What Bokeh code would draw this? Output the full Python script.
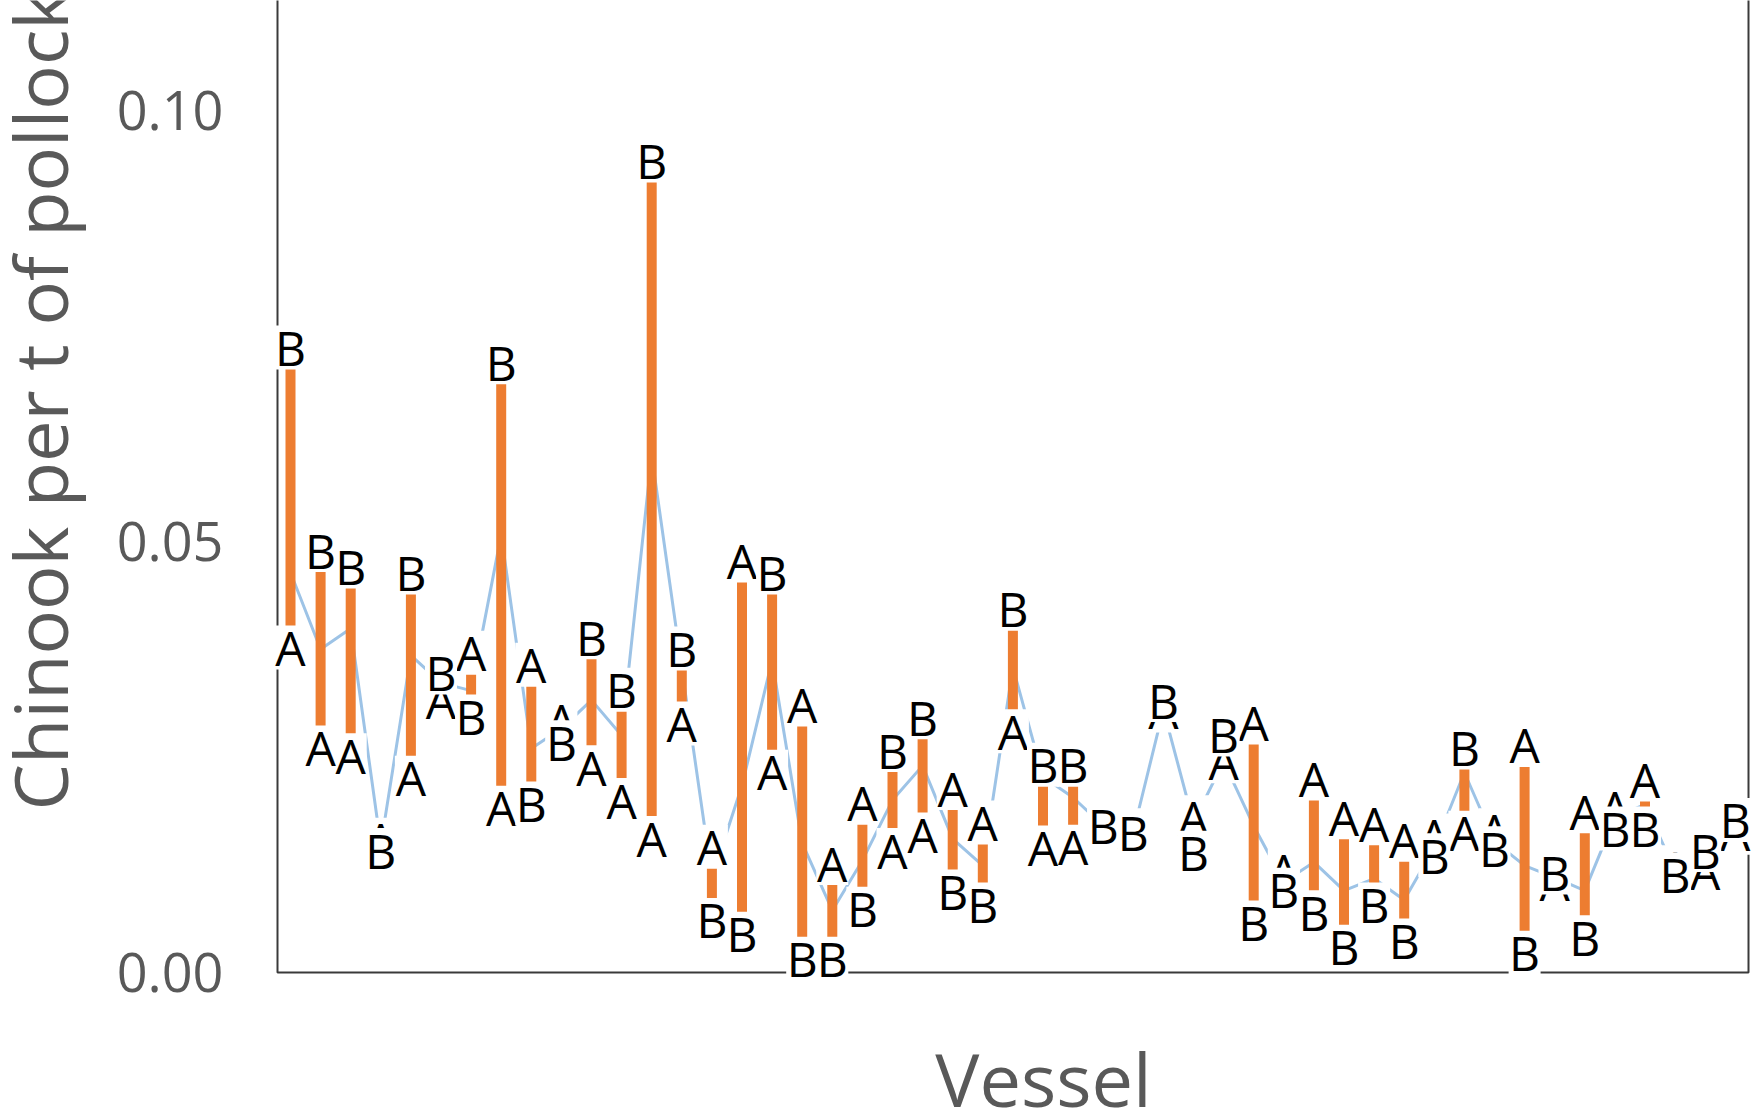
import math
from bokeh.plotting import figure
from bokeh.layouts import row
from bokeh.models import Range1d, FixedTicker, NumeralTickFormatter, Label, ColumnDataSource
from bokeh.embed import file_html
from bokeh.resources import INLINE
from bokeh.core.properties import value

# ---------------- data ----------------
season_a = [0.0377, 0.0261, 0.0252, 0.0154, 0.0226, 0.0316, 0.0371, 0.0191, 0.0357, 0.0292,
            0.0238, 0.0200, 0.0156, 0.0289, 0.0146, 0.0478, 0.0233, 0.0311, 0.0127, 0.0197,
            0.0142, 0.0160, 0.0214, 0.0174, 0.0280, 0.0145, 0.0146, 0.0168, 0.0165, 0.0304,
            0.0180, 0.0245, 0.0290, 0.0118, 0.0225, 0.0180, 0.0173, 0.0154, 0.0159, 0.0162,
            0.0165, 0.0264, 0.0104, 0.0187, 0.0191, 0.0224, 0.0122, 0.0117, 0.0162]
season_b = [0.0725, 0.0490, 0.0471, 0.0142, 0.0464, 0.0348, 0.0297, 0.0708, 0.0196, 0.0267,
            0.0389, 0.0328, 0.0942, 0.0376, 0.0061, 0.0045, 0.0464, 0.0016, 0.0016, 0.0074,
            0.0258, 0.0296, 0.0094, 0.0079, 0.0422, 0.0241, 0.0241, 0.0171, 0.0162, 0.0316,
            0.0139, 0.0276, 0.0058, 0.0096, 0.0070, 0.0030, 0.0079, 0.0037, 0.0136, 0.0261,
            0.0144, 0.0023, 0.0116, 0.0041, 0.0167, 0.0167, 0.0114, 0.0142, 0.0177]
annual = [0.0464, 0.0375, 0.0399, 0.0148, 0.0368, 0.0336, 0.0327, 0.0508, 0.0260, 0.0283,
          0.0316, 0.0275, 0.0600, 0.0353, 0.0110, 0.0217, 0.0362, 0.0150, 0.0072, 0.0130,
          0.0200, 0.0240, 0.0155, 0.0124, 0.0354, 0.0227, 0.0203, 0.0170, 0.0163, 0.0305,
          0.0174, 0.0245, 0.0170, 0.0105, 0.0128, 0.0095, 0.0109, 0.0084, 0.0145, 0.0232,
          0.0152, 0.0124, 0.0110, 0.0095, 0.0180, 0.0195, 0.0118, 0.0130, 0.0170]
y_ticks = [0.00, 0.05, 0.10]
label_a = "A"
label_b = "B"
y_title = "Chinook per t of pollock"
x_title = "Vessel"

n = len(season_a)
vessel = list(range(n))

# ---------------- layout (pixels) ----------------
W, H = 1763, 1109
W_TITLE = 100                 # narrow strip holding the y-axis title
FRAME_L = 272                 # page column of the plot frame's left edge
BORDER_L = FRAME_L - W_TITLE
BORDER_R = 7
W_MAIN = W - W_TITLE
FRAME_W = W_MAIN - BORDER_L - BORDER_R
PX_X = 30.1      # pixels per vessel
PX_Y = 8620.0    # pixels per unit of rate
ZERO_PX = 972    # page row of the zero line
x0 = (FRAME_L - 290) / PX_X
x_range = Range1d(x0, x0 + FRAME_W / PX_X)
y_range = Range1d(-(H - ZERO_PX) / PX_Y, ZERO_PX / PX_Y)

FONT = "Open Sans"
GREY = "#595959"

# ---------------- y-axis title strip ----------------
pt = figure(width=W_TITLE, height=H, x_range=Range1d(0, W_TITLE), y_range=Range1d(0, H),
            output_backend="svg", toolbar_location=None,
            x_axis_location=None, y_axis_location=None,
            min_border_left=0, min_border_right=0, min_border_top=0, min_border_bottom=0)
pt.outline_line_color = None
pt.grid.grid_line_color = None
pt.add_layout(Label(x=38.5, y=H - 810, text=y_title, angle=math.pi / 2,
                    text_font=FONT, text_font_size="74px", text_color=GREY,
                    text_align="left", text_baseline="middle"))

# ---------------- main chart ----------------
p = figure(width=W_MAIN, height=H, x_range=x_range, y_range=y_range,
           output_backend="svg", toolbar_location=None,
           x_axis_location=None, y_axis_location="left",
           min_border_left=BORDER_L, min_border_right=BORDER_R,
           min_border_top=0, min_border_bottom=0)
p.outline_line_color = None
p.grid.grid_line_color = None
p.background_fill_color = "white"
p.border_fill_color = "white"

ax = p.yaxis[0]
ax.ticker = FixedTicker(ticks=y_ticks)
ax.formatter = NumeralTickFormatter(format="0.00")
ax.axis_line_color = None
ax.major_tick_line_color = None
ax.minor_tick_line_color = None
ax.major_tick_out = 0
ax.major_tick_in = 0
ax.major_label_standoff = 49
ax.major_label_text_font = FONT
ax.major_label_text_font_size = "54px"
ax.major_label_text_color = GREY

# frame lines (left, bottom, right)
fl = x0 + 5 / PX_X
fr = x0 + 1476 / PX_X
ft = y_range.end + 0.01
p.line([fl, fl, fr, fr], [ft, 0, 0, ft], line_color="#3a3a3a", line_width=2)

src = ColumnDataSource(dict(v=vessel, a=season_a, b=season_b, yr=annual,
                            la=[label_a] * n, lb=[label_b] * n))

# annual rate line
p.line("v", "yr", source=src, line_color="#9DC3E6", line_width=3)

# A-to-B range bars
p.segment(x0="v", y0="a", x1="v", y1="b", source=src,
          line_color="#ED7D31", line_width=10, line_cap="butt")

# labels with white backing
for col, lab in (("a", "la"), ("b", "lb")):
    p.rect(x="v", y=col, width=32, height=44, width_units="screen", height_units="screen",
           source=src, fill_color="white", line_color=None)
    p.text(x="v", y=col, text=lab, source=src, text_font=value(FONT),
           text_font_size=value("48px"), text_color="black",
           text_align="center", text_baseline="middle")

# x-axis title
p.add_layout(Label(x=x0 + (1043 - FRAME_L) / PX_X, y=(ZERO_PX - 1078) / PX_Y,
                   text=x_title, text_font=FONT,
                   text_font_size="74px", text_color=GREY,
                   text_align="center", text_baseline="middle"))

layout = row(pt, p)
open("out.html", "w").write(file_html(layout, INLINE))
